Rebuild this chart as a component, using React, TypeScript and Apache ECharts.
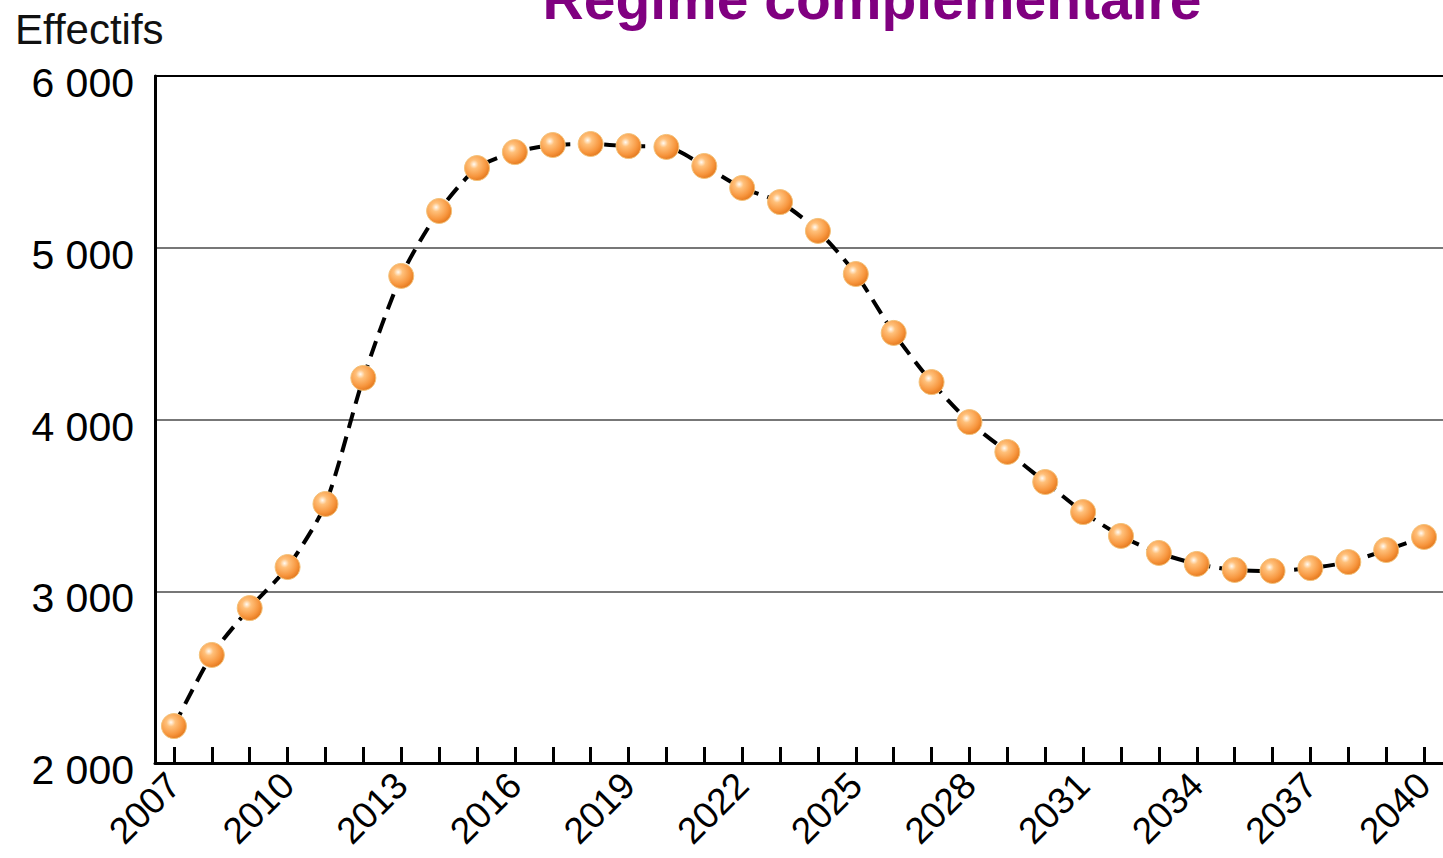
import React, { useEffect, useRef } from "react";
import * as echarts from "echarts";

const years: string[] = [
  "2007", "2008", "2009", "2010", "2011", "2012", "2013", "2014", "2015", "2016",
  "2017", "2018", "2019", "2020", "2021", "2022", "2023", "2024", "2025", "2026",
  "2027", "2028", "2029", "2030", "2031", "2032", "2033", "2034", "2035", "2036",
  "2037", "2038", "2039", "2040",
];

const effectifs: number[] = [
  2215, 2629, 2902, 3141, 3508, 4242, 4836, 5214, 5464, 5557,
  5598, 5604, 5592, 5587, 5476, 5348, 5266, 5098, 4847, 4504,
  4218, 3985, 3811, 3636, 3461, 3322, 3223, 3159, 3124, 3118,
  3135, 3170, 3240, 3316,
];

const yMin = 2000;
const yMax = 6000;
const yStep = 1000;

const titleText = "Régime complémentaire";
const yAxisTitle = "Effectifs";

const FONT = "'Liberation Sans', Arial, Helvetica, sans-serif";

export default function App() {
  const ref = useRef<HTMLDivElement>(null);

  useEffect(() => {
    if (!ref.current) return;
    const chart = echarts.init(ref.current, null, { renderer: "svg" });
    chart.setOption({
      animation: false,
      backgroundColor: "#ffffff",
      grid: {
        left: 155,
        right: 0,
        top: 76,
        bottom: 95,
        containLabel: false,
        outerBoundsMode: "none",
      },
      graphic: [
        {
          type: "text",
          x: 872,
          y: -1,
          style: {
            text: titleText,
            fill: "#800080",
            font: `bold 57px ${FONT}`,
            textAlign: "center",
            textVerticalAlign: "middle",
          },
        },
        {
          type: "text",
          x: 15,
          y: 29,
          style: {
            text: yAxisTitle,
            fill: "#111111",
            font: `42px ${FONT}`,
            textAlign: "left",
            textVerticalAlign: "middle",
          },
        },
      ],
      xAxis: [
        {
          type: "category",
          data: years,
          boundaryGap: true,
          axisLine: { show: true, lineStyle: { color: "#000", width: 3 } },
          axisTick: {
            show: true,
            alignWithLabel: true,
            inside: true,
            length: 16,
            interval: 0,
            lineStyle: { color: "#000", width: 3 },
          },
          axisLabel: {
            interval: 2,
            rotate: 45,
            margin: 16,
            color: "#000",
            fontSize: 37,
            fontFamily: FONT,
          },
          splitLine: { show: false },
        },
        {
          type: "category",
          position: "top",
          data: years,
          axisLine: { show: true, lineStyle: { color: "#000", width: 2 } },
          axisTick: { show: false },
          axisLabel: { show: false },
        },
      ],
      yAxis: {
        type: "value",
        min: yMin,
        max: yMax,
        interval: yStep,
        axisLine: { show: true, lineStyle: { color: "#000", width: 3 } },
        axisTick: { show: false },
        axisLabel: {
          margin: 21,
          formatter: (v: number) => {
            const s = String(Math.round(v));
            return "{v|" + s.replace(/\B(?=(\d{3})+(?!\d))/g, " ") + "}";
          },
          rich: {
            v: {
              color: "#000",
              fontSize: 41,
              fontFamily: FONT,
              padding: [14, 0, 0, 0],
            },
          },
        },
        splitLine: { show: true, lineStyle: { color: "#4a4a4a", width: 1.5 } },
      },
      series: [
        {
          type: "line",
          data: effectifs,
          smooth: 0.25,
          symbol: "circle",
          symbolSize: 25,
          showSymbol: true,
          lineStyle: { color: "#000", width: 4, type: [16, 9] },
          itemStyle: {
            color: new echarts.graphic.RadialGradient(0.38, 0.35, 0.7, [
              { offset: 0, color: "#fffaf2" },
              { offset: 0.25, color: "#ffc07a" },
              { offset: 0.7, color: "#f7963e" },
              { offset: 1, color: "#e2751a" },
            ]),
            borderColor: "#f3c27a",
            borderWidth: 1,
          },
          z: 3,
        },
      ],
    });
    return () => chart.dispose();
  }, []);

  return (
    <div
      ref={ref}
      style={{ position: "fixed", left: 0, top: 0, width: 1443, height: 858 }}
    />
  );
}
